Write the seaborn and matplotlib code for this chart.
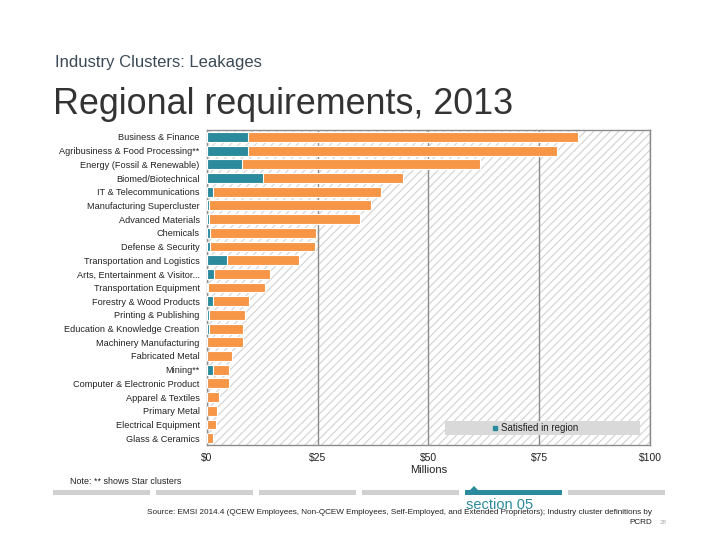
import numpy as np
import pandas as pd
import matplotlib
matplotlib.use("Agg")
import matplotlib.pyplot as plt
import seaborn as sns
from matplotlib.patches import Rectangle, Polygon
from matplotlib.lines import Line2D

clusters = [
    "Business & Finance",
    "Agribusiness & Food Processing**",
    "Energy (Fossil & Renewable)",
    "Biomed/Biotechnical",
    "IT & Telecommunications",
    "Manufacturing Supercluster",
    "Advanced Materials",
    "Chemicals",
    "Defense & Security",
    "Transportation and Logistics",
    "Arts, Entertainment & Visitor...",
    "Transportation Equipment",
    "Forestry & Wood Products",
    "Printing & Publishing",
    "Education & Knowledge Creation",
    "Machinery Manufacturing",
    "Fabricated Metal",
    "Mining**",
    "Computer & Electronic Product",
    "Apparel & Textiles",
    "Primary Metal",
    "Electrical Equipment",
    "Glass & Ceramics",
]
# $ millions
satisfied = [9.4, 9.4, 8.0, 12.8, 1.4, 0.5, 0.6, 0.8, 0.8, 4.6, 1.7, 0.2,
             1.5, 0.5, 0.5, 0.1, 0.1, 1.5, 0.0, 0.0, 0.0, 0.0, 0.1]
leakage = [74.3, 69.7, 53.6, 31.5, 37.9, 36.5, 34.0, 23.8, 23.6, 16.2, 12.6, 12.9,
           8.0, 8.1, 7.8, 8.1, 5.6, 3.5, 5.0, 2.8, 2.3, 2.1, 1.3]
x_ticks = [0, 25, 50, 75, 100]
x_labels = ["$0", "$25", "$50", "$75", "$100"]

df = pd.DataFrame({"cluster": clusters, "satisfied": satisfied, "leakage": leakage})
df["total"] = df["satisfied"] + df["leakage"]

teal = "#2b8a9b"
orange = "#f79646"

sns.set_style("white")
plt.rcParams["font.family"] = ["Liberation Sans", "DejaVu Sans"]
plt.rcParams["hatch.linewidth"] = 0.8

fig = plt.figure(figsize=(7.2, 5.4), dpi=100)
ax = fig.add_axes([0.287, 0.176, 0.616, 0.583])

# hatched plot background
ax.add_patch(Rectangle((0, 0), 1, 1, transform=ax.transAxes, fill=False,
                       hatch="////", edgecolor="#d2d2d2", linewidth=0, zorder=0))

sns.barplot(data=df, y="cluster", x="total", color=orange, orient="h", width=0.72,
            edgecolor="white", linewidth=0.8, saturation=1, ax=ax, zorder=2)
sns.barplot(data=df, y="cluster", x="satisfied", color=teal, orient="h", width=0.72,
            edgecolor="white", linewidth=0.8, saturation=1, ax=ax, zorder=3)

ax.set_xlim(0, 100)
ax.set_xticks(x_ticks)
ax.set_xticklabels(x_labels, fontsize=7.5, color="#222222")
ax.tick_params(axis="y", labelsize=6.6, length=0, pad=5, colors="#222222")
ax.tick_params(axis="x", length=0, pad=6)
ax.set_ylabel("")
ax.set_xlabel("Millions", fontsize=8, color="#222222", labelpad=1)
ax.xaxis.grid(True, color="#8c8c8c", linewidth=1)
ax.set_axisbelow(True)
for s in ax.spines.values():
    s.set_color("#8c8c8c")
    s.set_linewidth(1)

# legend
ax.add_patch(Rectangle((0.537, 0.032), 0.44, 0.044, transform=ax.transAxes,
                       facecolor="#d9d9d9", edgecolor="none", zorder=4))
handle = Line2D([], [], marker="s", linestyle="none", markersize=3.5,
                markerfacecolor=teal, markeredgecolor=teal)
ax.legend([handle], ["Satisfied in region"], loc="center", bbox_to_anchor=(0.74, 0.054),
          frameon=False, fontsize=7, handlelength=0.6, handletextpad=0.3,
          borderpad=0, labelcolor="#222222").set_zorder(5)

# titles
fig.text(55 / 720, 1 - 62 / 540, "Industry Clusters: Leakages", fontsize=12,
         color="#3b4a56", va="center", ha="left")
fig.text(53 / 720, 1 - 104 / 540, "Regional requirements, 2013", fontsize=25.8,
         color="#333333", va="center", ha="left")

# footer
fig.text(70 / 720, 1 - 481 / 540, "Note: ** shows Star clusters", fontsize=6.4,
         color="#222222", va="center")
for i in range(6):
    x0 = (53 + i * 103) / 720
    fig.patches.append(Rectangle((x0, 1 - 495 / 540), 97 / 720, 5 / 540,
                                 transform=fig.transFigure,
                                 facecolor=teal if i == 4 else "#d0d0d0",
                                 edgecolor="none"))
fig.patches.append(Polygon([(470 / 720, 1 - 490 / 540), (474 / 720, 1 - 486 / 540),
                            (478 / 720, 1 - 490 / 540)], closed=True,
                           transform=fig.transFigure, facecolor=teal, edgecolor="none"))
fig.text(466 / 720, 1 - 505 / 540, "section 05", fontsize=10.5, color=teal,
         va="center", ha="left")
fig.text(652 / 720, 1 - 512 / 540,
         "Source: EMSI 2014.4 (QCEW Employees, Non-QCEW Employees, Self-Employed, "
         "and Extended Proprietors); Industry cluster definitions by",
         fontsize=5.85, color="#222222", va="center", ha="right")
fig.text(652 / 720, 1 - 523 / 540, "PCRD", fontsize=5.85, color="#222222",
         va="center", ha="right")
fig.text(660 / 720, 1 - 523 / 540, "28", fontsize=4.5, color="#aaaaaa",
         va="center", ha="left")

fig.savefig("out.png", dpi=100)
